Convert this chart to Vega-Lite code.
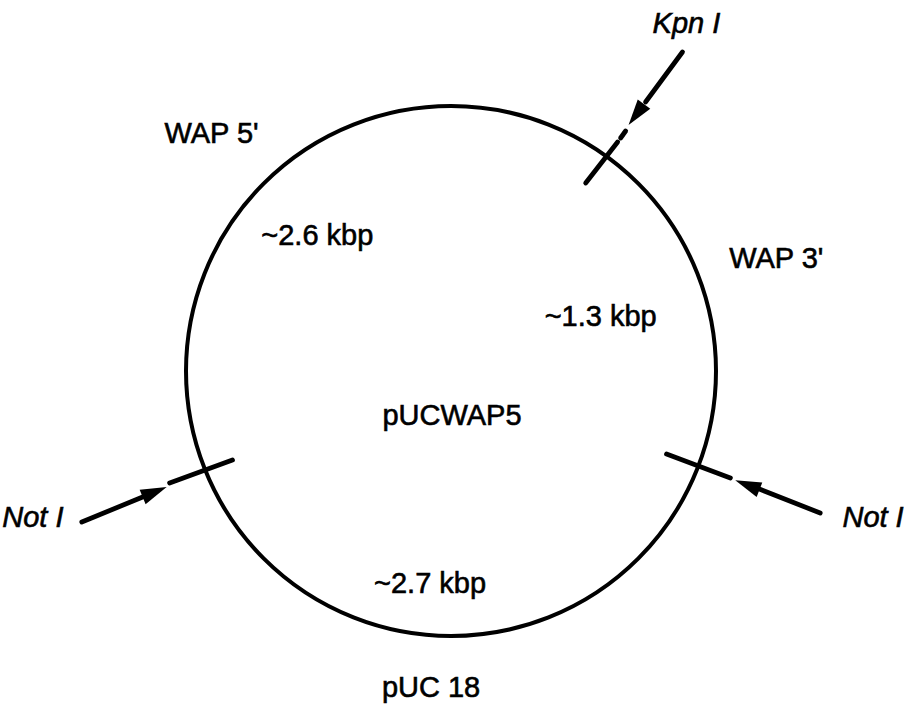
{
  "$schema": "https://vega.github.io/schema/vega-lite/v6.json",
  "width": 904,
  "height": 707,
  "padding": 0,
  "autosize": {"type": "fit", "contains": "padding"},
  "background": "white",
  "config": {"view": {"stroke": null}},
  "datasets": {
    "plasmid": [{"name": "pUCWAP5", "cx": 0, "cy": 0}],
    "segments": [
      {"site": "Kpn I", "x": 232, "y": 319, "x2": 195, "y2": 269},
      {"site": "Kpn I", "x": 175, "y": 240, "x2": 170, "y2": 233},
      {"site": "Kpn I", "x": 167, "y": 229, "x2": 135, "y2": 188},
      {"site": "Not I (left)", "x": -370, "y": -151, "x2": -309, "y2": -126},
      {"site": "Not I (left)", "x": -282, "y": -112, "x2": -219, "y2": -89},
      {"site": "Not I (right)", "x": 370, "y": -142, "x2": 309, "y2": -118},
      {"site": "Not I (right)", "x": 280, "y": -107, "x2": 216, "y2": -83}
    ],
    "heads": [
      {"site": "Kpn I", "x": 185.7, "y": 256.5, "bearing": 216.5},
      {"site": "Not I (left)", "x": -297, "y": -121, "bearing": 67.6},
      {"site": "Not I (right)", "x": 297, "y": -114, "bearing": 291.2}
    ],
    "labels": [
      {"label": "WAP 5'", "x": -240, "y": 228},
      {"label": "~2.6 kbp", "x": -134, "y": 126},
      {"label": "WAP 3'", "x": 326, "y": 103},
      {"label": "~1.3 kbp", "x": 150, "y": 45},
      {"label": "pUCWAP5", "x": 1, "y": -54},
      {"label": "~2.7 kbp", "x": -21, "y": -222},
      {"label": "pUC 18", "x": -20, "y": -326}
    ],
    "sites": [
      {"label": "Kpn I", "x": 236, "y": 338},
      {"label": "Not I", "x": -419, "y": -156},
      {"label": "Not I", "x": 423, "y": -156}
    ]
  },
  "layer": [
    {
      "data": {"name": "plasmid"},
      "mark": {"type": "point", "shape": "circle", "size": 280900, "filled": false, "stroke": "black", "strokeWidth": 4, "opacity": 1},
      "encoding": {
        "x": {"field": "cx", "type": "quantitative", "scale": {"domain": [-452, 452], "nice": false, "zero": false}, "axis": null},
        "y": {"field": "cy", "type": "quantitative", "scale": {"domain": [-336, 371], "nice": false, "zero": false}, "axis": null}
      }
    },
    {
      "data": {"name": "segments"},
      "mark": {"type": "rule", "color": "black", "strokeWidth": 4.8, "strokeCap": "round"},
      "encoding": {
        "x": {"field": "x", "type": "quantitative", "scale": {"domain": [-452, 452], "nice": false, "zero": false}, "axis": null},
        "y": {"field": "y", "type": "quantitative", "scale": {"domain": [-336, 371], "nice": false, "zero": false}, "axis": null},
        "x2": {"field": "x2"},
        "y2": {"field": "y2"}
      }
    },
    {
      "data": {"name": "heads"},
      "mark": {"type": "point", "shape": "M0,-1L0.6,1L-0.6,1Z", "size": 676, "filled": true, "color": "black", "opacity": 1, "strokeWidth": 0},
      "encoding": {
        "x": {"field": "x", "type": "quantitative", "scale": {"domain": [-452, 452], "nice": false, "zero": false}, "axis": null},
        "y": {"field": "y", "type": "quantitative", "scale": {"domain": [-336, 371], "nice": false, "zero": false}, "axis": null},
        "angle": {"field": "bearing", "type": "quantitative", "scale": null}
      }
    },
    {
      "data": {"name": "labels"},
      "mark": {"type": "text", "font": "Liberation Sans, Arial, sans-serif", "fontSize": 29, "align": "center", "baseline": "alphabetic", "color": "black", "stroke": "black", "strokeWidth": 0.6},
      "encoding": {
        "x": {"field": "x", "type": "quantitative", "scale": {"domain": [-452, 452], "nice": false, "zero": false}, "axis": null},
        "y": {"field": "y", "type": "quantitative", "scale": {"domain": [-336, 371], "nice": false, "zero": false}, "axis": null},
        "text": {"field": "label"}
      }
    },
    {
      "data": {"name": "sites"},
      "mark": {"type": "text", "font": "Liberation Sans, Arial, sans-serif", "fontSize": 29, "fontStyle": "italic", "align": "center", "baseline": "alphabetic", "color": "black", "stroke": "black", "strokeWidth": 0.6},
      "encoding": {
        "x": {"field": "x", "type": "quantitative", "scale": {"domain": [-452, 452], "nice": false, "zero": false}, "axis": null},
        "y": {"field": "y", "type": "quantitative", "scale": {"domain": [-336, 371], "nice": false, "zero": false}, "axis": null},
        "text": {"field": "label"}
      }
    }
  ]
}
